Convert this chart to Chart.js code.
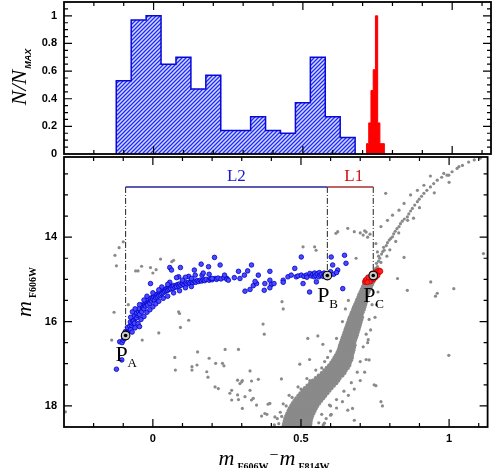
<!DOCTYPE html>
<html>
<head>
<meta charset="utf-8">
<script src="https://cdn.jsdelivr.net/npm/chart.js@4.4.1/dist/chart.umd.min.js"></script>
<style>
  body { margin: 0; background: #fff; }
  #wrap { position: relative; width: 493px; height: 468px; overflow: hidden; }
  #wrap canvas { position: absolute; left: 0; }
  .ttl { position: absolute; white-space: nowrap; font-family: 'Liberation Serif', serif; color: #000; transform: translate(-50%, -50%); }
  .ttl .m { font-style: italic; font-size: 22px; }
  .ttl .s { font: bold 10px 'Liberation Serif', serif; position: relative; top: 5px; margin-left: 3px; }
</style>
</head>
<body>
<div id="wrap">
  <canvas id="cmd" width="493" height="318" style="top:150px"></canvas>
  <canvas id="hist" width="493" height="168" style="top:0"></canvas>
  <div class="ttl" style="left:19px;top:77px;transform:translate(-50%,-50%) rotate(-90deg)"><span class="m">N/N</span><span class="s" style="font:italic bold 9px 'Liberation Sans',sans-serif;margin-left:1px">MAX</span></div>
  <div class="ttl" style="left:24px;top:292px;transform:translate(-50%,-50%) rotate(-90deg)"><span class="m">m</span><span class="s">F606W</span></div>
  <div class="ttl" style="left:274px;top:458px"><span class="m">m</span><span class="s">F606W</span><span style="font-size:16px;margin:0 1px;position:relative;top:-5px">−</span><span class="m">m</span><span class="s">F814W</span></div>
</div>
<script>
// ---- histogram (top panel) ----
const blueEdges = [-0.125, -0.075, -0.025, 0.025, 0.075, 0.125, 0.175, 0.225, 0.275, 0.325, 0.375, 0.425, 0.475, 0.525, 0.575, 0.625, 0.675];
const blueFrac = [0.53, 0.97, 1.0, 0.65, 0.70, 0.47, 0.57, 0.17, 0.17, 0.27, 0.17, 0.15, 0.37, 0.70, 0.27, 0.12];
const redEdges = [0.713, 0.7205, 0.728, 0.7355, 0.743, 0.7505, 0.758, 0.7655, 0.773];
const redFrac = [0.075, 0.225, 0.46, 0.61, 1.0, 0.225, 0.075, 0.075];

// ---- axes ----
const xMin = -0.3, xMax = 1.13;
const xLabels = [0, 0.5, 1];
const xMinor = [-0.2, -0.1, 0.1, 0.2, 0.3, 0.4, 0.6, 0.7, 0.8, 0.9, 1.1];
const histYLabels = [0, 0.2, 0.4, 0.6, 0.8, 1];
const histYMinor = [0.05, 0.1, 0.15, 0.25, 0.3, 0.35, 0.45, 0.5, 0.55, 0.65, 0.7, 0.75, 0.85, 0.9, 0.95, 1.05];
const cmdYLabels = [14, 16, 18];
const cmdYMinor = [12.5, 13, 13.5, 14.5, 15, 15.5, 16.5, 17, 17.5];

// ---- CMD (bottom panel) ----
const pPoints = [[-0.092, 16.33], [0.589, 14.91], [0.744, 14.91]];
const pNames = ['A', 'B', 'C'];
const lineMag = 12.81;

// main sequence, rows of [mag, colours]
const msRows = [
  [14.94, [0.724, 0.733, 0.742, 0.750]],
  [15.00, [0.721, 0.730, 0.739, 0.748]],
  [15.06, [0.717, 0.726, 0.735, 0.744]],
  [15.12, [0.713, 0.722, 0.731, 0.740]],
  [15.18, [0.709, 0.718, 0.727, 0.736]],
  [15.24, [0.705, 0.714, 0.723, 0.732]],
  [15.30, [0.701, 0.710, 0.719, 0.728]],
  [15.36, [0.697, 0.706, 0.715, 0.724]],
  [15.42, [0.694, 0.703, 0.712, 0.721]],
  [15.48, [0.690, 0.699, 0.708, 0.717]],
  [15.54, [0.687, 0.696, 0.705, 0.714, 0.719]],
  [15.60, [0.683, 0.692, 0.701, 0.710, 0.717]],
  [15.66, [0.679, 0.688, 0.697, 0.706, 0.714]],
  [15.72, [0.676, 0.685, 0.694, 0.703, 0.712]],
  [15.78, [0.672, 0.681, 0.690, 0.699, 0.708]],
  [15.84, [0.669, 0.678, 0.687, 0.696, 0.705]],
  [15.90, [0.665, 0.674, 0.683, 0.692, 0.701, 0.706]],
  [15.96, [0.662, 0.671, 0.680, 0.689, 0.698, 0.704]],
  [16.02, [0.659, 0.668, 0.677, 0.686, 0.695, 0.701]],
  [16.08, [0.656, 0.665, 0.674, 0.683, 0.692, 0.699]],
  [16.14, [0.653, 0.662, 0.671, 0.680, 0.689, 0.696]],
  [16.20, [0.650, 0.659, 0.668, 0.677, 0.686, 0.694]],
  [16.26, [0.647, 0.656, 0.665, 0.674, 0.683, 0.691]],
  [16.32, [0.644, 0.653, 0.662, 0.671, 0.680, 0.689]],
  [16.38, [0.641, 0.650, 0.659, 0.668, 0.677, 0.686]],
  [16.44, [0.638, 0.647, 0.656, 0.665, 0.674, 0.683]],
  [16.50, [0.635, 0.644, 0.653, 0.662, 0.671, 0.680]],
  [16.56, [0.632, 0.641, 0.650, 0.659, 0.668, 0.677, 0.681]],
  [16.62, [0.630, 0.639, 0.648, 0.657, 0.666, 0.675, 0.679]],
  [16.68, [0.627, 0.636, 0.645, 0.654, 0.663, 0.672, 0.677]],
  [16.74, [0.623, 0.632, 0.641, 0.650, 0.659, 0.668, 0.675]],
  [16.80, [0.618, 0.627, 0.636, 0.645, 0.654, 0.663, 0.672]],
  [16.86, [0.613, 0.622, 0.631, 0.640, 0.649, 0.658, 0.667, 0.672]],
  [16.92, [0.608, 0.617, 0.626, 0.635, 0.644, 0.653, 0.662, 0.669]],
  [16.98, [0.602, 0.611, 0.620, 0.629, 0.638, 0.647, 0.656, 0.665]],
  [17.04, [0.595, 0.604, 0.613, 0.622, 0.631, 0.640, 0.649, 0.658, 0.663]],
  [17.10, [0.587, 0.596, 0.605, 0.614, 0.623, 0.632, 0.641, 0.650, 0.658]],
  [17.16, [0.579, 0.588, 0.597, 0.606, 0.615, 0.624, 0.633, 0.642, 0.651]],
  [17.22, [0.570, 0.579, 0.588, 0.597, 0.606, 0.615, 0.624, 0.633, 0.642, 0.647]],
  [17.28, [0.560, 0.569, 0.578, 0.587, 0.596, 0.605, 0.614, 0.623, 0.632, 0.640]],
  [17.34, [0.550, 0.559, 0.568, 0.577, 0.586, 0.595, 0.604, 0.613, 0.622, 0.631]],
  [17.40, [0.540, 0.549, 0.558, 0.567, 0.576, 0.585, 0.594, 0.603, 0.612, 0.621, 0.626]],
  [17.46, [0.531, 0.540, 0.549, 0.558, 0.567, 0.576, 0.585, 0.594, 0.603, 0.612, 0.619]],
  [17.52, [0.522, 0.531, 0.540, 0.549, 0.558, 0.567, 0.576, 0.585, 0.594, 0.603, 0.611]],
  [17.58, [0.513, 0.522, 0.531, 0.540, 0.549, 0.558, 0.567, 0.576, 0.585, 0.594, 0.603]],
  [17.64, [0.505, 0.514, 0.523, 0.532, 0.541, 0.550, 0.559, 0.568, 0.577, 0.586, 0.596]],
  [17.70, [0.498, 0.507, 0.516, 0.525, 0.534, 0.543, 0.552, 0.561, 0.570, 0.579, 0.589]],
  [17.76, [0.491, 0.500, 0.509, 0.518, 0.527, 0.536, 0.545, 0.554, 0.563, 0.572, 0.582]],
  [17.82, [0.484, 0.493, 0.502, 0.511, 0.520, 0.529, 0.538, 0.547, 0.556, 0.565, 0.575]],
  [17.88, [0.478, 0.487, 0.496, 0.505, 0.514, 0.523, 0.532, 0.541, 0.550, 0.559, 0.568]],
  [17.94, [0.472, 0.481, 0.490, 0.499, 0.508, 0.517, 0.526, 0.535, 0.544, 0.553, 0.561]],
  [18.00, [0.467, 0.476, 0.485, 0.494, 0.503, 0.512, 0.521, 0.530, 0.539, 0.548, 0.555]],
  [18.06, [0.462, 0.471, 0.480, 0.489, 0.498, 0.507, 0.516, 0.525, 0.534, 0.543, 0.550]],
  [18.12, [0.458, 0.467, 0.476, 0.485, 0.494, 0.503, 0.512, 0.521, 0.530, 0.539, 0.546]],
  [18.18, [0.454, 0.463, 0.472, 0.481, 0.490, 0.499, 0.508, 0.517, 0.526, 0.535, 0.542]],
  [18.24, [0.450, 0.459, 0.468, 0.477, 0.486, 0.495, 0.504, 0.513, 0.522, 0.531, 0.538]],
  [18.30, [0.447, 0.456, 0.465, 0.474, 0.483, 0.492, 0.501, 0.510, 0.519, 0.528, 0.535]],
  [18.36, [0.445, 0.454, 0.463, 0.472, 0.481, 0.490, 0.499, 0.508, 0.517, 0.526, 0.533]],
  [18.42, [0.443, 0.452, 0.461, 0.470, 0.479, 0.488, 0.497, 0.506, 0.515, 0.524, 0.532]],
  [18.48, [0.441, 0.450, 0.459, 0.468, 0.477, 0.486, 0.495, 0.504, 0.513, 0.522, 0.531]]
];

const msFuzz = [
  [0.760, 15.30], [0.755, 15.60], [0.750, 15.90], [0.735, 16.20], [0.725, 16.50], [0.720, 16.90], [0.715, 17.20], [0.700, 17.40],
  [0.680, 17.60], [0.660, 17.75], [0.640, 17.90], [0.620, 18.05], [0.600, 18.22], [0.585, 18.30], [0.575, 18.45], [0.560, 18.40],
  [0.570, 18.20], [0.600, 18.00], [0.620, 17.85], [0.645, 17.65], [0.670, 17.45], [0.690, 17.20], [0.700, 16.95], [0.710, 16.60],
  [0.720, 16.30], [0.730, 15.95], [0.740, 15.60], [0.640, 16.00], [0.650, 15.70], [0.660, 15.50], [0.620, 16.40], [0.600, 16.70],
  [0.580, 16.95], [0.550, 17.15], [0.520, 17.35], [0.490, 17.55], [0.460, 17.75], [0.440, 17.95], [0.430, 18.15], [0.420, 18.30],
  [0.410, 18.45], [0.425, 18.42], [0.435, 18.25], [0.450, 18.00], [0.470, 17.80], [0.500, 17.60], [0.530, 17.40], [0.570, 17.10], [0.590, 16.85]
];

const rgbStars = [
  [0.748, 14.80], [0.752, 14.74], [0.758, 14.70], [0.755, 14.62], [0.762, 14.57], [0.766, 14.50], [0.762, 14.45], [0.772, 14.40],
  [0.776, 14.34], [0.781, 14.31], [0.779, 14.24], [0.788, 14.20], [0.792, 14.13], [0.798, 14.07], [0.803, 14.03], [0.809, 13.99],
  [0.813, 13.92], [0.818, 13.86], [0.824, 13.80], [0.831, 13.75], [0.836, 13.68], [0.842, 13.62], [0.849, 13.57], [0.859, 13.52],
  [0.864, 13.45], [0.870, 13.38], [0.876, 13.32], [0.884, 13.24], [0.893, 13.16], [0.899, 13.10], [0.907, 13.03], [0.915, 12.96],
  [0.925, 12.89], [0.937, 12.81], [0.948, 12.73], [0.960, 12.65], [0.975, 12.58], [0.993, 12.53], [1.010, 12.45], [1.027, 12.37],
  [1.045, 12.30], [1.066, 12.22], [1.085, 12.17], [1.105, 12.13],
  [0.770, 13.75], [0.792, 13.60], [0.809, 13.48], [0.831, 13.36], [0.848, 13.20], [0.870, 13.00], [0.893, 12.89], [0.915, 12.77],
  [0.937, 12.55], [0.982, 12.49], [0.999, 12.53], [1.033, 12.33], [0.786, 12.96],
  [0.830, 13.90], [0.860, 13.60], [0.900, 13.30], [0.950, 12.95], [0.800, 14.30], [0.820, 14.10], [1.000, 12.70], [0.880, 13.55],
  [0.790, 14.45], [0.770, 14.60]
];

const fieldStars = [
  [-0.128, 14.43], [-0.114, 14.25], [-0.100, 14.11], [-0.123, 14.68], [-0.058, 14.80], [-0.050, 14.80], [-0.038, 14.69], [-0.008, 14.72],
  [0.000, 14.85], [0.011, 14.77], [0.026, 14.52], [0.064, 14.58], [0.070, 14.55],
  [-0.131, 15.78], [-0.083, 15.60], [0.087, 15.77], [0.090, 15.81], [0.121, 15.97], [0.093, 16.14], [0.020, 16.27], [-0.139, 16.44], [-0.036, 16.44],
  [0.151, 16.72], [0.074, 16.85], [0.076, 17.15], [0.132, 17.07], [0.132, 17.15], [0.149, 17.03], [0.182, 17.19], [0.186, 17.32],
  [0.190, 16.87], [0.212, 16.99], [0.235, 16.99], [0.240, 17.05], [0.244, 16.66], [0.289, 16.66],
  [0.210, 17.55], [0.221, 17.59], [0.260, 17.70], [0.266, 17.86], [0.266, 17.63], [0.286, 17.39], [0.294, 17.47], [0.302, 17.40],
  [0.286, 17.74], [0.289, 17.85], [0.311, 17.78], [0.328, 17.63], [0.333, 17.86], [0.302, 18.06], [0.350, 17.98], [0.339, 17.82],
  [0.389, 17.96], [0.395, 17.94], [0.367, 18.24], [0.378, 18.18], [0.385, 18.20], [0.412, 18.26], [-0.295, 18.14],
  [0.372, 16.06], [0.376, 16.30], [0.523, 16.40], [0.557, 16.34], [0.574, 16.54], [0.529, 16.90], [0.496, 17.01], [0.434, 17.36],
  [0.356, 17.37], [0.333, 17.41], [0.328, 17.17], [0.300, 17.43],
  [0.727, 16.43], [0.730, 16.91], [0.747, 17.50], [0.753, 17.52], [0.770, 17.90], [0.775, 18.00], [0.674, 18.06], [0.680, 18.34],
  [0.658, 18.10], [0.602, 18.20], [0.596, 17.98], [0.579, 18.41],
  [0.999, 16.80], [1.116, 14.39], [0.938, 15.06], [0.960, 15.33], [0.954, 15.40], [1.016, 15.22], [0.826, 14.98], [0.859, 15.26], [0.848, 14.48],
  [0.436, 15.53], [0.440, 15.70], [0.507, 14.23], [0.551, 14.31], [0.546, 14.23], [0.686, 14.50], [0.658, 13.79], [0.618, 13.91],
  [0.680, 13.87], [0.700, 13.90], [0.710, 13.95], [0.720, 13.88], [0.725, 14.00], [0.733, 13.93], [0.715, 13.85], [0.753, 14.15],
  [0.758, 14.35], [0.624, 13.87]
];

const blueStars = [
  [-0.123, 17.13], [-0.105, 16.91], [-0.112, 16.48], [-0.104, 16.50], [-0.100, 16.44], [-0.096, 16.40], [-0.099, 16.35], [-0.090, 16.38],
  [-0.088, 16.30], [-0.085, 16.26], [-0.093, 16.24], [-0.082, 16.21], [-0.080, 16.17], [-0.086, 16.14], [-0.078, 16.11], [-0.075, 16.19],
  [-0.072, 16.09], [-0.070, 16.04], [-0.076, 16.01], [-0.068, 15.99], [-0.065, 15.97], [-0.062, 16.04], [-0.060, 15.93], [-0.058, 15.89],
  [-0.064, 15.87], [-0.055, 15.91], [-0.052, 15.85], [-0.050, 15.81], [-0.055, 15.79], [-0.048, 15.77], [-0.045, 15.83], [-0.042, 15.74],
  [-0.040, 15.71], [-0.046, 15.69], [-0.038, 15.77], [-0.035, 15.67], [-0.032, 15.64], [-0.038, 15.61], [-0.030, 15.70], [-0.028, 15.59],
  [-0.025, 15.63], [-0.022, 15.57], [-0.020, 15.54], [-0.026, 15.51], [-0.018, 15.61], [-0.015, 15.52], [-0.012, 15.49], [-0.018, 15.46],
  [-0.010, 15.57], [-0.008, 15.45], [-0.005, 15.51], [-0.002, 15.43], [0.000, 15.47], [0.003, 15.41], [0.005, 15.49], [0.008, 15.39],
  [0.010, 15.44], [0.012, 15.36], [0.015, 15.42], [0.018, 15.34], [0.020, 15.39], [0.022, 15.31], [0.025, 15.37], [0.028, 15.29],
  [0.030, 15.34], [0.033, 15.27], [0.035, 15.32], [0.038, 15.25], [0.040, 15.29], [0.043, 15.23], [0.045, 15.27], [0.048, 15.21],
  [0.050, 15.26], [0.053, 15.19], [0.055, 15.24], [0.058, 15.18], [0.060, 15.22], [0.065, 15.17], [0.068, 15.21], [0.070, 15.15],
  [0.075, 15.19], [0.078, 15.14], [0.080, 15.17], [0.085, 15.12], [0.088, 15.16], [0.090, 15.11], [0.095, 15.14], [0.100, 15.10],
  [0.105, 15.13], [0.110, 15.08], [0.115, 15.11], [0.120, 15.07], [0.125, 15.09], [0.130, 15.05], [0.135, 15.08], [0.140, 15.04],
  [0.145, 15.07], [0.150, 15.03], [0.155, 15.05], [0.160, 15.02], [0.165, 15.04], [0.170, 15.01], [0.175, 15.03], [0.180, 15.00],
  [0.190, 15.02], [0.195, 14.99], [0.200, 15.01], [0.210, 14.98], [0.215, 15.00], [0.220, 14.97], [0.230, 14.99], [0.240, 14.96], [0.250, 14.98],
  [-0.060, 16.15], [-0.050, 16.05], [-0.040, 15.95], [-0.030, 15.88], [-0.020, 15.78], [-0.010, 15.72], [0.000, 15.65], [0.010, 15.58],
  [0.020, 15.52], [0.035, 15.45], [0.050, 15.40], [0.070, 15.32], [0.090, 15.27], [0.110, 15.20], [0.130, 15.17], [-0.070, 16.25], [-0.045, 16.12],
  [-0.008, 15.10], [-0.030, 15.49], [-0.069, 15.77], [-0.060, 15.70], [0.000, 15.32], [0.030, 15.18], [0.057, 15.07], [0.057, 14.72],
  [0.063, 14.78], [0.093, 14.72], [0.087, 14.94], [0.080, 14.96], [0.121, 14.93], [0.140, 14.78], [0.143, 14.90], [0.166, 14.90],
  [0.163, 14.64], [0.188, 14.70], [0.208, 14.48], [0.227, 14.66], [0.200, 14.98], [0.242, 14.90], [0.250, 15.00], [0.110, 14.95],
  [0.130, 14.98], [0.170, 14.85], [0.190, 14.88], [0.100, 15.02], [0.050, 15.12], [0.020, 15.25], [-0.020, 15.40], [-0.045, 15.60], [-0.075, 15.90],
  [0.255, 15.02], [0.275, 14.96], [0.289, 14.81], [0.294, 14.98], [0.309, 14.90], [0.320, 14.80], [0.333, 14.66], [0.311, 15.28],
  [0.328, 15.24], [0.339, 15.15], [0.350, 15.10], [0.356, 14.90], [0.345, 15.05], [0.376, 15.26], [0.378, 15.10], [0.395, 14.81],
  [0.395, 15.02], [0.400, 15.12], [0.395, 15.20], [0.409, 15.10], [0.440, 15.02], [0.440, 15.07], [0.456, 14.94], [0.467, 14.90],
  [0.479, 14.74], [0.484, 14.94], [0.490, 14.92], [0.501, 14.90], [0.507, 15.10], [0.510, 14.93], [0.518, 14.90], [0.520, 14.95],
  [0.529, 15.30], [0.501, 14.47], [0.530, 14.86], [0.535, 14.92], [0.540, 14.88], [0.545, 14.94], [0.546, 14.85], [0.550, 14.91],
  [0.555, 14.87], [0.560, 14.94], [0.562, 14.84], [0.565, 14.90], [0.570, 14.88], [0.575, 14.93], [0.578, 14.85], [0.580, 14.90],
  [0.585, 14.87], [0.552, 15.06], [0.602, 14.47], [0.607, 14.66], [0.624, 14.78], [0.641, 15.22], [0.647, 14.43], [0.652, 14.62],
  [0.600, 14.82], [0.610, 14.88], [0.620, 14.84]
];

const redStars = [
  [0.716, 15.06], [0.718, 15.02], [0.722, 15.00], [0.726, 15.05], [0.730, 14.97], [0.733, 15.02], [0.736, 14.93], [0.738, 14.99],
  [0.741, 14.90], [0.743, 14.96], [0.746, 14.87], [0.748, 14.93], [0.750, 14.84], [0.752, 14.90], [0.755, 14.82], [0.757, 14.87],
  [0.760, 14.80], [0.763, 14.84], [0.728, 14.95], [0.740, 14.86], [0.752, 14.95], [0.735, 15.05], [0.765, 14.79], [0.768, 14.81],
  [0.724, 15.07], [0.745, 15.00], [0.758, 14.91]
];

// ---- helpers ----
const pts = arr => arr.map(([x, y]) => ({ x, y }));

function stepPoints(edges, vals) {
  const p = [{ x: edges[0], y: 0 }];
  vals.forEach((v, i) => p.push({ x: edges[i], y: v }));
  p.push({ x: edges[edges.length - 1], y: 0 });
  return p;
}

function hatch() {
  const c = document.createElement('canvas');
  c.width = 4; c.height = 4;
  const g = c.getContext('2d');
  g.fillStyle = '#d6d8ff';
  g.fillRect(0, 0, 4, 4);
  g.strokeStyle = '#2030ee';
  g.lineWidth = 1.3;
  g.beginPath();
  g.moveTo(-1, 5); g.lineTo(5, -1);
  g.moveTo(-1, 1); g.lineTo(1, -1);
  g.moveTo(3, 5); g.lineTo(5, 3);
  g.stroke();
  return g.createPattern(c, 'repeat');
}

const tickFont = { family: "'Liberation Sans', Arial, sans-serif", size: 11, weight: 'bold' };

// frame with inward ticks on all four sides
const framePlugin = {
  id: 'frame',
  afterDatasetsDraw(chart, args, o) {
    const { ctx, chartArea: a, scales: { x, y } } = chart;
    ctx.save();
    ctx.strokeStyle = '#000';
    ctx.lineWidth = 1.2;
    ctx.beginPath();
    const xt = (vals, len) => vals.forEach(v => {
      const p = x.getPixelForValue(v);
      ctx.moveTo(p, a.bottom); ctx.lineTo(p, a.bottom - len);
      ctx.moveTo(p, a.top); ctx.lineTo(p, a.top + len);
    });
    const yt = (vals, len) => vals.forEach(v => {
      const p = y.getPixelForValue(v);
      ctx.moveTo(a.left, p); ctx.lineTo(a.left + len, p);
      ctx.moveTo(a.right, p); ctx.lineTo(a.right - len, p);
    });
    xt(o.xMajor, 8); xt(o.xMinor, 4);
    yt(o.yMajor, 8); yt(o.yMinor, 4);
    ctx.stroke();
    ctx.lineWidth = 1.8;
    ctx.strokeRect(a.left, a.top, a.right - a.left, a.bottom - a.top);
    ctx.restore();
  }
};

// L1 / L2 and P labels
const labelPlugin = {
  id: 'labels',
  afterDatasetsDraw(chart) {
    const { ctx, scales: { x, y } } = chart;
    ctx.save();
    ctx.textBaseline = 'alphabetic';
    ctx.textAlign = 'center';
    ctx.font = "17px 'Liberation Serif', serif";
    ctx.fillStyle = '#1a1ad0';
    ctx.fillText('L2', x.getPixelForValue(0.282), y.getPixelForValue(12.67));
    ctx.fillStyle = '#d01010';
    ctx.fillText('L1', x.getPixelForValue(0.678), y.getPixelForValue(12.67));
    ctx.textAlign = 'left';
    ctx.fillStyle = '#000';
    pPoints.forEach(([px, py], i) => {
      const X = x.getPixelForValue(px), Y = y.getPixelForValue(py);
      ctx.font = "22px 'Liberation Serif', serif";
      ctx.fillText('P', X - 10, Y + 26);
      ctx.font = "13px 'Liberation Serif', serif";
      ctx.fillText(pNames[i], X + 2, Y + 32);
    });
    ctx.restore();
  }
};

// ---- top chart ----
new Chart(document.getElementById('hist'), {
  type: 'line',
  data: {
    datasets: [
      { data: stepPoints(redEdges, redFrac), stepped: 'before', fill: 'origin', borderColor: '#ff0000', backgroundColor: '#ff0000', borderWidth: 1, pointRadius: 0, order: 0 },
      { data: stepPoints(blueEdges, blueFrac), stepped: 'before', fill: 'origin', borderColor: '#0808d8', backgroundColor: hatch(), borderWidth: 1.5, pointRadius: 0, order: 1 }
    ]
  },
  options: {
    responsive: false,
    animation: false,
    layout: { padding: { top: 2, right: 2, bottom: 14, left: 0 } },
    plugins: {
      legend: { display: false },
      tooltip: { enabled: false },
      frame: { xMajor: xLabels, xMinor: xMinor, yMajor: histYLabels.slice(1), yMinor: histYMinor }
    },
    scales: {
      x: { type: 'linear', min: xMin, max: xMax, display: false },
      y: {
        min: 0, max: 1.1,
        grid: { display: false, drawTicks: false },
        border: { display: false },
        ticks: { font: tickFont, color: '#000', padding: 7, callback: v => String(+v.toFixed(2)) },
        afterBuildTicks: s => { s.ticks = histYLabels.map(v => ({ value: v })); },
        afterFit: s => { s.width = 64; s.paddingTop = 0; s.paddingBottom = 0; }
      }
    }
  },
  plugins: [framePlugin]
});

// ---- bottom chart ----
const dashLines = pPoints.map(([px, py]) => ({
  data: [{ x: px, y: lineMag }, { x: px, y: py }],
  showLine: true, borderColor: '#222', borderWidth: 1, borderDash: [6, 2, 1, 2], pointRadius: 0, order: 3
}));

new Chart(document.getElementById('cmd'), {
  type: 'scatter',
  data: {
    datasets: [
      { data: pts(pPoints), pointRadius: 1.8, backgroundColor: '#000', borderWidth: 0, order: 0 },
      { data: pts(pPoints), pointRadius: 4.3, backgroundColor: '#c8c8c8', borderColor: '#000', borderWidth: 1.1, order: 1 },
      { data: [{ x: pPoints[0][0], y: lineMag }, { x: pPoints[1][0], y: lineMag }], showLine: true, borderColor: '#24249a', borderWidth: 1.6, pointRadius: 0, order: 2 },
      { data: [{ x: pPoints[1][0], y: lineMag }, { x: pPoints[2][0], y: lineMag }], showLine: true, borderColor: '#a83030', borderWidth: 1.6, pointRadius: 0, order: 2 },
      ...dashLines,
      { data: pts(redStars), pointRadius: 2.5, backgroundColor: '#ff2020', borderColor: '#d00000', borderWidth: 0.8, order: 4 },
      { data: pts(blueStars), pointRadius: 2.3, backgroundColor: '#4a4aff', borderColor: '#0000c8', borderWidth: 0.8, order: 5 },
      {
        data: msRows.flatMap(([m, xs]) => xs.map(x => ({ x, y: m }))),
        pointRadius: 2.1, backgroundColor: '#8a8a8a', borderWidth: 0, order: 6
      },
      {
        data: [...pts(msFuzz), ...pts(rgbStars), ...pts(fieldStars)],
        pointRadius: 1.6, backgroundColor: '#8a8a8a', borderWidth: 0, order: 7
      }
    ]
  },
  options: {
    responsive: false,
    animation: false,
    layout: { padding: { top: 7, right: 2, bottom: 0, left: 0 } },
    plugins: {
      legend: { display: false },
      tooltip: { enabled: false },
      frame: { xMajor: xLabels, xMinor: xMinor, yMajor: cmdYLabels, yMinor: cmdYMinor }
    },
    scales: {
      x: {
        type: 'linear', min: xMin, max: xMax,
        grid: { display: false, drawTicks: false },
        border: { display: false },
        ticks: { font: tickFont, color: '#000', padding: 5, maxRotation: 0, callback: v => String(v) },
        afterBuildTicks: s => { s.ticks = xLabels.map(v => ({ value: v })); },
        afterFit: s => { s.height = 41; s.paddingLeft = 0; s.paddingRight = 0; }
      },
      y: {
        reverse: true, min: 12.1, max: 18.5,
        grid: { display: false, drawTicks: false },
        border: { display: false },
        ticks: { font: tickFont, color: '#000', padding: 7, callback: v => String(v) },
        afterBuildTicks: s => { s.ticks = cmdYLabels.map(v => ({ value: v })); },
        afterFit: s => { s.width = 64; s.paddingTop = 0; s.paddingBottom = 0; }
      }
    }
  },
  plugins: [framePlugin, labelPlugin]
});
</script>
</body>
</html>
